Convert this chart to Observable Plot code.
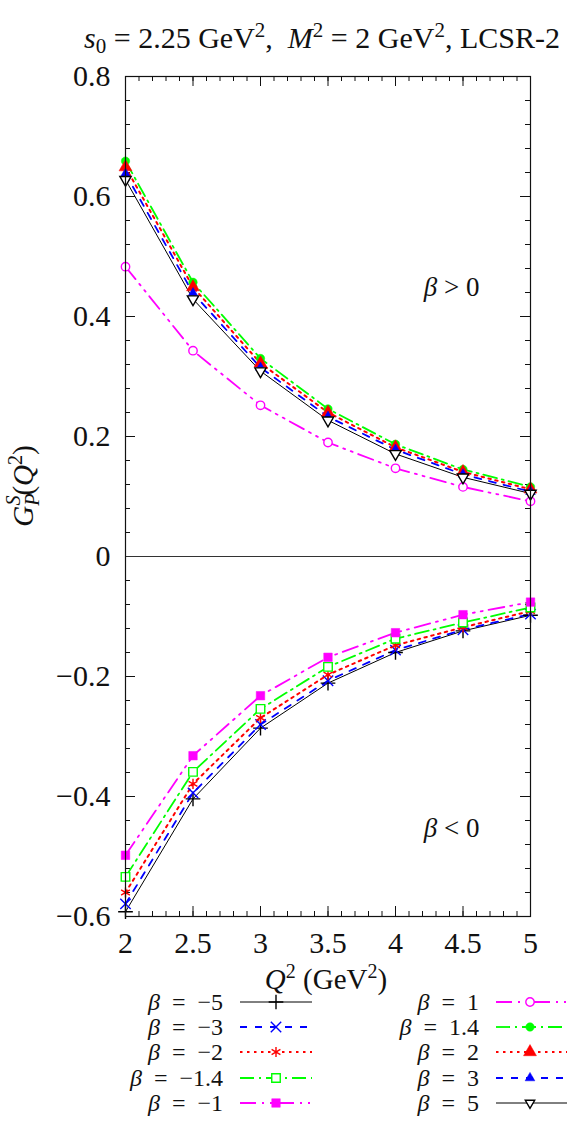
<!DOCTYPE html>
<html>
<head>
<meta charset="utf-8">
<script src="https://cdn.jsdelivr.net/npm/d3@7"></script>
<script src="https://cdn.jsdelivr.net/npm/@observablehq/plot@0.6"></script>
<style>
  body { margin: 0; background: #fff; font-family: 'Liberation Serif', 'DejaVu Serif', serif; }
  #chart { width: 575px; height: 1127px; }
  svg text { font-family: 'Liberation Serif', 'DejaVu Serif', serif !important; }
</style>
</head>
<body>
<div id="chart"></div>
<script>
// ---- Data ----
const Q2 = [2, 2.5, 3, 3.5, 4, 4.5, 5];
const betaLabels = ["−5", "−3", "−2", "−1.4", "−1", "1", "1.4", "2", "3", "5"];
const gBetaNeg5   = [-0.592, -0.404, -0.286, -0.211, -0.160, -0.124, -0.098];
const gBetaNeg3   = [-0.579, -0.394, -0.280, -0.207, -0.156, -0.122, -0.096];
const gBetaNeg2   = [-0.560, -0.379, -0.269, -0.197, -0.148, -0.118, -0.091];
const gBetaNeg1_4 = [-0.534, -0.359, -0.254, -0.184, -0.137, -0.110, -0.085];
const gBetaNeg1   = [-0.498, -0.332, -0.232, -0.168, -0.127, -0.097, -0.076];
const gBeta1      = [0.483, 0.343, 0.252, 0.190, 0.147, 0.116, 0.092];
const gBeta1_4    = [0.659, 0.457, 0.330, 0.246, 0.187, 0.145, 0.116];
const gBeta2      = [0.649, 0.449, 0.322, 0.240, 0.182, 0.141, 0.112];
const gBeta3      = [0.638, 0.439, 0.315, 0.233, 0.178, 0.137, 0.108];
const gBeta5      = [0.628, 0.429, 0.309, 0.227, 0.171, 0.132, 0.105];
const yTickValues = [-0.6, -0.4, -0.2, 0, 0.2, 0.4, 0.6, 0.8];
const xTickValues = [2, 2.5, 3, 3.5, 4, 4.5, 5];
const regionLabels = ["β > 0", "β < 0"];

// ---- Styles ----
const seriesValues = [gBetaNeg5, gBetaNeg3, gBetaNeg2, gBetaNeg1_4, gBetaNeg1, gBeta1, gBeta1_4, gBeta2, gBeta3, gBeta5];
const styles = [
  {color: "#000000", width: 1,   dash: null,           symbol: "plus",     filled: false, r: 4.8, rotate: 0},
  {color: "#0000ff", width: 1.8, dash: "7,8",          symbol: "times",    filled: false, r: 4.8, rotate: 0},
  {color: "#ff0000", width: 2,   dash: "2.5,4.5",      symbol: "asterisk", filled: false, r: 4.8, rotate: 0},
  {color: "#00ff00", width: 1.8, dash: "14,5,2,5",     symbol: "square",   filled: false, r: 4.8, rotate: 0},
  {color: "#ff00ff", width: 1.8, dash: "16,6,2,6,2,6", symbol: "square",   filled: true,  r: 4.8, rotate: 0},
  {color: "#ff00ff", width: 1.8, dash: "16,6,2,6,2,6", symbol: "circle",   filled: false, r: 4.2, rotate: 0},
  {color: "#00ff00", width: 1.8, dash: "14,5,2,5",     symbol: "circle",   filled: true,  r: 4.2, rotate: 0},
  {color: "#ff0000", width: 2,   dash: "2.5,4.5",      symbol: "triangle", filled: true,  r: 4.8, rotate: 0},
  {color: "#0000ff", width: 1.8, dash: "7,8",          symbol: "triangle", filled: true,  r: 3.6, rotate: 0},
  {color: "#000000", width: 1,   dash: null,           symbol: "triangle", filled: false, r: 4.2, rotate: 180}
];

const W = 575, H = 1127;
const mL = 125, mR = 45, mT = 76, mB = H - 916;
const plotW = W - mL - mR, plotH = H - mT - mB;
const FONT = "'Liberation Serif', 'DejaVu Serif', serif";

const marks = [];
const yMinor = d3.range(0, 36).map(i => -0.6 + i * 0.04);
const xMinor = d3.range(0, 31).map(i => 2 + i * 0.1);
const tickStroke = "#111";
marks.push(Plot.tickY(yMinor, {y: d => d, insetRight: plotW - 5, stroke: tickStroke}));
marks.push(Plot.tickY(yMinor, {y: d => d, insetLeft: plotW - 5, stroke: tickStroke}));
marks.push(Plot.tickY(yTickValues, {y: d => d, insetRight: plotW - 10, stroke: tickStroke}));
marks.push(Plot.tickY(yTickValues, {y: d => d, insetLeft: plotW - 10, stroke: tickStroke}));
marks.push(Plot.tickX(xMinor, {x: d => d, insetTop: plotH - 5, stroke: tickStroke}));
marks.push(Plot.tickX(xMinor, {x: d => d, insetBottom: plotH - 5, stroke: tickStroke}));
marks.push(Plot.tickX(xTickValues, {x: d => d, insetTop: plotH - 10, stroke: tickStroke}));
marks.push(Plot.tickX(xTickValues, {x: d => d, insetBottom: plotH - 10, stroke: tickStroke}));
marks.push(Plot.ruleY([0], {stroke: "#333", strokeWidth: 1}));

seriesValues.forEach((vals, i) => {
  const s = styles[i];
  const rows = Q2.map((q, j) => ({q, g: vals[j]}));
  marks.push(Plot.line(rows, {x: "q", y: "g", stroke: s.color, strokeWidth: s.width, strokeDasharray: s.dash}));
});
const strokeSymbols = ["plus", "times", "asterisk"];
seriesValues.forEach((vals, i) => {
  const s = styles[i];
  const rows = Q2.map((q, j) => ({q, g: vals[j]}));
  marks.push(Plot.dot(rows, {
    x: "q", y: "g", symbol: s.symbol, r: s.r, rotate: s.rotate,
    fill: s.filled ? s.color : (strokeSymbols.includes(s.symbol) ? "none" : "white"),
    fillOpacity: 1,
    stroke: s.color, strokeWidth: s.filled ? 0.5 : 1.4
  }));
});

const fmtY = d => d === 0 ? "0" : (d < 0 ? "−" : "") + Math.abs(d).toFixed(1);
marks.push(Plot.axisY(yTickValues, {anchor: "left", tickSize: 0, tickPadding: 15, tickFormat: fmtY, label: null}));
marks.push(Plot.axisX(xTickValues, {anchor: "bottom", tickSize: 0, tickPadding: 15, tickFormat: d => String(d), label: null}));
marks.push(Plot.frame({stroke: "#111", strokeWidth: 1.2}));

const plot = Plot.plot({
  width: W, height: H,
  marginLeft: mL, marginRight: mR, marginTop: mT, marginBottom: mB,
  x: {domain: [2, 5]},
  y: {domain: [-0.6, 0.8]},
  style: {fontFamily: FONT, fontSize: "30px", background: "white", color: "#111"},
  marks
});
document.getElementById("chart").appendChild(plot);

const svg = d3.select(plot);
const sx = plot.scale("x"), sy = plot.scale("y");

function addText(x, y, anchor, size, transform) {
  const t = svg.append("text").attr("text-anchor", anchor)
    .attr("font-family", FONT).attr("font-size", size).attr("fill", "#111");
  if (transform) t.attr("transform", transform); else t.attr("x", x).attr("y", y);
  return t;
}

// Title
const title = addText(322, 48, "middle", 30);
title.append("tspan").attr("font-style", "italic").text("s");
title.append("tspan").attr("font-size", 21).attr("dy", 5).text("0");
title.append("tspan").attr("dy", -5).text(" = 2.25 GeV");
title.append("tspan").attr("font-size", 21).attr("dy", -11).text("2");
title.append("tspan").attr("dy", 11).text(",  ");
title.append("tspan").attr("font-style", "italic").text("M");
title.append("tspan").attr("font-size", 21).attr("dy", -11).text("2");
title.append("tspan").attr("dy", 11).text(" = 2 GeV");
title.append("tspan").attr("font-size", 21).attr("dy", -11).text("2");
title.append("tspan").attr("dy", 11).text(", LCSR-2");

// Y label
const yl = addText(0, 0, "middle", 29, "translate(33,486) rotate(-90)");
yl.append("tspan").attr("font-style", "italic").text("G");
yl.append("tspan").attr("font-style", "italic").attr("font-size", 20).attr("dy", 6).text("P");
yl.append("tspan").attr("font-style", "italic").attr("font-size", 20).attr("dx", -12).attr("dy", -19).text("S");
yl.append("tspan").attr("dy", 13).text("(");
yl.append("tspan").attr("font-style", "italic").text("Q");
yl.append("tspan").attr("font-size", 20).attr("dy", -11).text("2");
yl.append("tspan").attr("dy", 11).text(")");

// X label
const xl = addText(326, 989, "middle", 29);
xl.append("tspan").attr("font-style", "italic").text("Q");
xl.append("tspan").attr("font-size", 20).attr("dy", -11).text("2");
xl.append("tspan").attr("dy", 11).text(" (GeV");
xl.append("tspan").attr("font-size", 20).attr("dy", -11).text("2");
xl.append("tspan").attr("dy", 11).text(")");

// Region annotations
[[regionLabels[0], 4.42, 0.448], [regionLabels[1], 4.42, -0.453]].forEach(([lab, q, g]) => {
  const t = addText(sx.apply(q), sy.apply(g) + 9, "middle", 27);
  t.append("tspan").attr("font-style", "italic").text(lab.slice(0, 1));
  t.append("tspan").text(lab.slice(1));
});

// Legend
const symMap = {plus: d3.symbolPlus, times: d3.symbolTimes, asterisk: d3.symbolAsterisk,
  square: d3.symbolSquare, circle: d3.symbolCircle, triangle: d3.symbolTriangle};
const rowY = [1002, 1027, 1052, 1078, 1103];
betaLabels.forEach((lab, i) => {
  const col = i < 5 ? 0 : 1;
  const row = i % 5;
  const s = styles[i];
  const textEnd = col === 0 ? 223 : 479;
  const lx0 = col === 0 ? 240 : 496, lx1 = col === 0 ? 312 : 567, mx = col === 0 ? 276 : 530;
  const y = rowY[row];
  const t = addText(textEnd, y + 8, "end", 24);
  t.append("tspan").attr("font-style", "italic").text("β");
  t.append("tspan").text("\u2002=\u2002" + lab);
  svg.append("line").attr("x1", lx0).attr("x2", lx1).attr("y1", y).attr("y2", y)
    .attr("stroke", s.color).attr("stroke-width", s.width).attr("stroke-dasharray", s.dash);
  const r = s.rotate ? 3.5 : s.r;
  svg.append("path").attr("d", d3.symbol(symMap[s.symbol], Math.PI * r * r)())
    .attr("transform", `translate(${mx},${y}) rotate(${s.rotate})`)
    .attr("fill", s.filled ? s.color : (strokeSymbols.includes(s.symbol) ? "none" : "white"))
    .attr("stroke", s.color).attr("stroke-width", s.filled ? 0.5 : 1.4);
});
</script>
</body>
</html>
